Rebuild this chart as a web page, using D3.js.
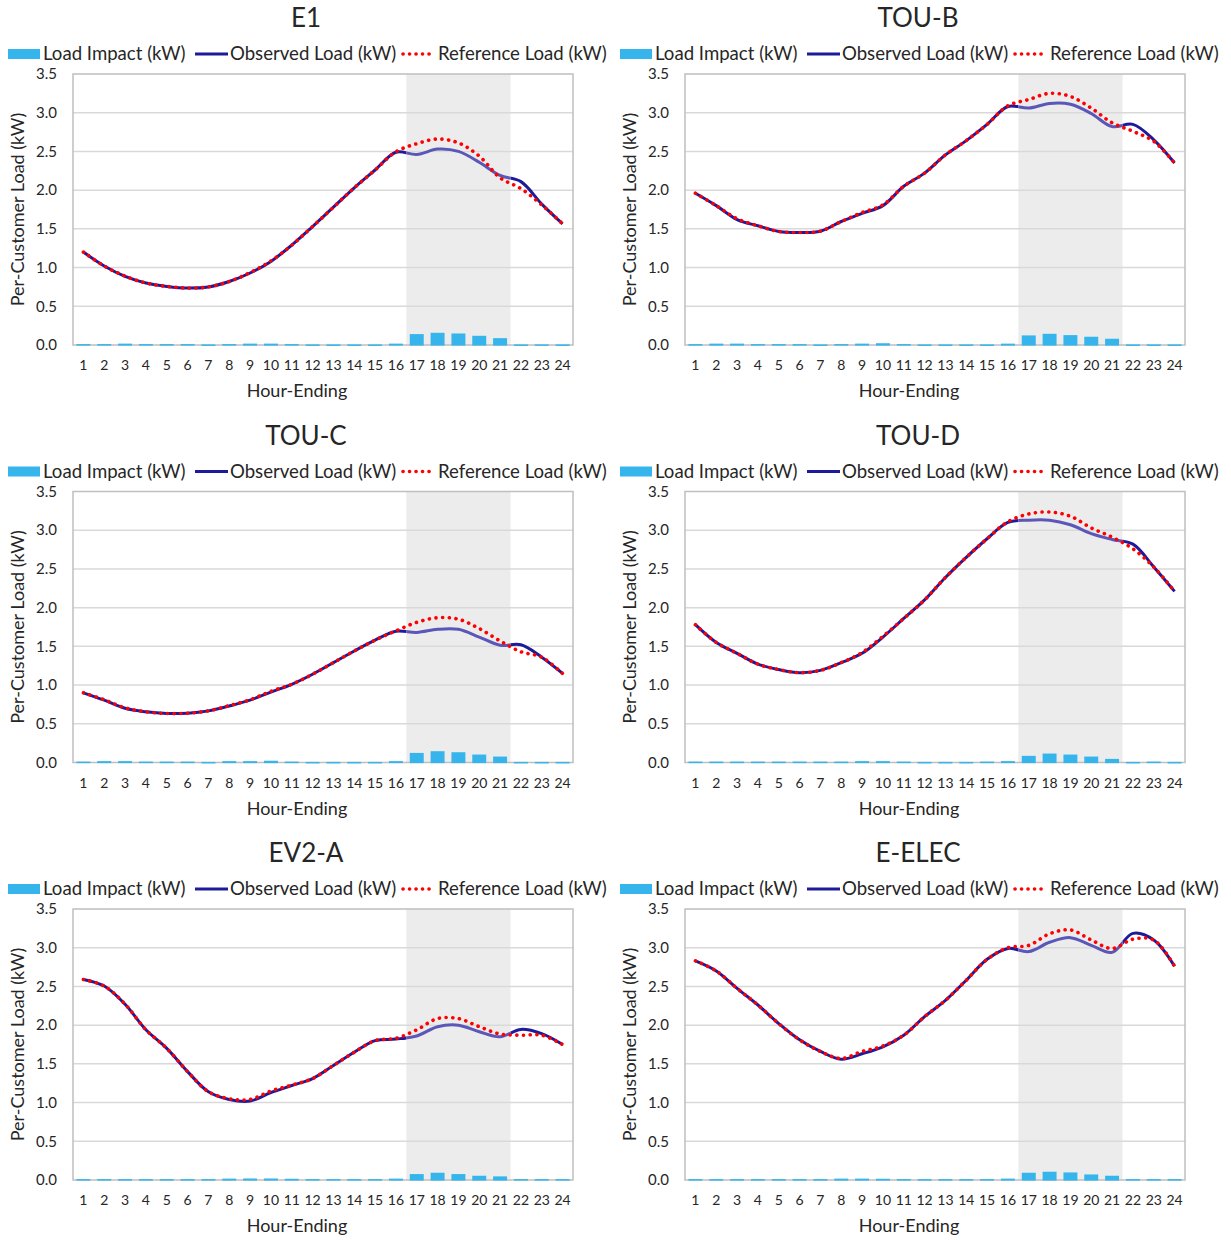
<!DOCTYPE html>
<html>
<head>
<meta charset="utf-8">
<script src="https://cdn.jsdelivr.net/npm/d3@7"></script>
<style>
  body { margin: 0; background: #fff; }
  text { font-family: Lato, "Open Sans", sans-serif; fill: #262626; }
</style>
</head>
<body>
<svg id="chart" width="1231" height="1240"></svg>
<script>
// hour labels, y ticks and the shaded event window
const hours = [1, 2, 3, 4, 5, 6, 7, 8, 9, 10, 11, 12, 13, 14, 15, 16, 17, 18, 19, 20, 21, 22, 23, 24];
const yTicks = [0, 0.5, 1.0, 1.5, 2.0, 2.5, 3.0, 3.5];
const eventHours = [17, 18, 19, 20, 21];
const panelTitles = ['E1', 'TOU-B', 'TOU-C', 'TOU-D', 'EV2-A', 'E-ELEC'];

// E1
const e1Observed = [1.20, 1.02, 0.885, 0.80, 0.757, 0.735, 0.75, 0.82, 0.93, 1.08, 1.29, 1.53, 1.78, 2.03, 2.26, 2.49, 2.46, 2.53, 2.50, 2.36, 2.19, 2.11, 1.82, 1.565];
const e1Reference = [1.20, 1.02, 0.89, 0.80, 0.757, 0.735, 0.75, 0.82, 0.935, 1.085, 1.29, 1.53, 1.78, 2.03, 2.26, 2.495, 2.60, 2.66, 2.61, 2.44, 2.16, 2.02, 1.81, 1.565];
const e1Impact = [0.004, 0.004, 0.01, 0.004, 0.004, 0.004, -0.004, 0.004, 0.01, 0.01, 0.004, -0.004, -0.004, -0.004, -0.004, 0.01, 0.133, 0.15, 0.141, 0.111, 0.081, -0.004, -0.003, -0.004];

// TOU-B
const toubObserved = [1.96, 1.80, 1.62, 1.54, 1.466, 1.453, 1.47, 1.595, 1.70, 1.80, 2.05, 2.22, 2.455, 2.64, 2.85, 3.08, 3.06, 3.12, 3.11, 2.99, 2.82, 2.85, 2.65, 2.35];
const toubReference = [1.96, 1.80, 1.63, 1.54, 1.466, 1.453, 1.47, 1.595, 1.71, 1.81, 2.05, 2.22, 2.455, 2.64, 2.85, 3.09, 3.17, 3.25, 3.21, 3.06, 2.87, 2.76, 2.63, 2.35];
const toubImpact = [0.004, 0.01, 0.01, 0.004, 0.004, 0.004, -0.004, 0.004, 0.01, 0.015, 0.004, -0.004, -0.004, -0.004, -0.004, 0.01, 0.116, 0.137, 0.12, 0.099, 0.073, -0.004, -0.004, -0.004];

// TOU-C
const toucObserved = [0.90, 0.805, 0.70, 0.654, 0.633, 0.637, 0.667, 0.73, 0.805, 0.91, 1.01, 1.14, 1.29, 1.44, 1.58, 1.695, 1.68, 1.72, 1.72, 1.62, 1.515, 1.52, 1.36, 1.15];
const toucReference = [0.90, 0.81, 0.705, 0.654, 0.633, 0.637, 0.667, 0.735, 0.81, 0.92, 1.01, 1.14, 1.29, 1.44, 1.58, 1.70, 1.81, 1.87, 1.85, 1.73, 1.57, 1.43, 1.36, 1.15];
const toucImpact = [0.004, 0.01, 0.01, 0.004, 0.004, 0.004, -0.004, 0.01, 0.01, 0.015, 0.004, -0.004, -0.004, -0.004, -0.004, 0.01, 0.116, 0.138, 0.125, 0.095, 0.069, -0.004, -0.004, -0.004];

// TOU-D
const toudObserved = [1.78, 1.55, 1.41, 1.27, 1.20, 1.16, 1.19, 1.29, 1.41, 1.62, 1.86, 2.10, 2.39, 2.65, 2.89, 3.10, 3.13, 3.13, 3.07, 2.955, 2.88, 2.82, 2.525, 2.21];
const toudReference = [1.78, 1.55, 1.41, 1.27, 1.20, 1.16, 1.19, 1.29, 1.42, 1.63, 1.86, 2.10, 2.39, 2.65, 2.89, 3.11, 3.21, 3.235, 3.18, 3.03, 2.91, 2.76, 2.525, 2.21];
const toudImpact = [0.004, 0.004, 0.004, 0.004, 0.004, 0.004, 0.004, 0.004, 0.01, 0.01, 0.004, -0.004, -0.004, -0.004, 0.004, 0.01, 0.078, 0.108, 0.095, 0.069, 0.039, -0.004, 0.004, -0.004];

// EV2-A
const ev2aObserved = [2.59, 2.505, 2.27, 1.94, 1.70, 1.40, 1.14, 1.04, 1.02, 1.13, 1.22, 1.31, 1.48, 1.65, 1.80, 1.82, 1.86, 1.98, 2.00, 1.915, 1.85, 1.945, 1.89, 1.75];
const ev2aReference = [2.59, 2.505, 2.27, 1.94, 1.70, 1.40, 1.14, 1.05, 1.04, 1.15, 1.225, 1.31, 1.48, 1.65, 1.80, 1.83, 1.94, 2.085, 2.085, 1.98, 1.885, 1.87, 1.87, 1.75];
const ev2aImpact = [0.004, 0.004, 0.004, 0.004, 0.004, 0.004, 0.004, 0.01, 0.012, 0.012, 0.008, 0.004, 0.004, 0.004, 0.004, 0.01, 0.069, 0.086, 0.069, 0.047, 0.039, 0.004, 0.004, 0.004];

// E-ELEC
const eelecObserved = [2.83, 2.70, 2.475, 2.26, 2.02, 1.81, 1.66, 1.56, 1.63, 1.72, 1.87, 2.11, 2.32, 2.58, 2.85, 2.99, 2.95, 3.07, 3.13, 3.03, 2.94, 3.185, 3.10, 2.76];
const eelecReference = [2.83, 2.70, 2.475, 2.26, 2.02, 1.81, 1.66, 1.57, 1.66, 1.73, 1.87, 2.11, 2.32, 2.58, 2.85, 3.00, 3.03, 3.18, 3.23, 3.10, 2.99, 3.11, 3.10, 2.76];
const eelecImpact = [0.004, 0.004, 0.004, 0.004, 0.004, 0.004, 0.004, 0.01, 0.01, 0.008, 0.004, 0.004, 0.004, 0.004, 0.004, 0.01, 0.086, 0.099, 0.09, 0.064, 0.047, 0.004, 0.004, 0.004];

const observedSeries = [e1Observed, toubObserved, toucObserved, toudObserved, ev2aObserved, eelecObserved];
const referenceSeries = [e1Reference, toubReference, toucReference, toudReference, ev2aReference, eelecReference];
const impactSeries = [e1Impact, toubImpact, toucImpact, toudImpact, ev2aImpact, eelecImpact];

// layout
const panelW = 612, panelH = 417.5;
const plotLeft = 73, plotTop = 74, plotW = 500, plotH = 271;

const colors = {
  bar: '#35b5ec',
  observed: '#1e1a9c',
  observedShade: '#5a57b8',
  reference: '#ff0000',
  shade: '#ececec',
  grid: '#d9d9d9',
  border: '#bfbfbf'
};

const svg = d3.select('#chart');

function drawPanel(i) {
  const col = i % 2, row = Math.floor(i / 2);
  const g = svg.append('g')
    .attr('transform', `translate(${col * panelW}, ${row * panelH})`);

  const x = d3.scaleBand().domain(hours).range([plotLeft, plotLeft + plotW]);
  const xBar = d3.scaleBand().domain(hours).range([plotLeft, plotLeft + plotW])
    .paddingInner(0.33).paddingOuter(0.165);
  const y = d3.scaleLinear().domain([0, 3.5]).range([plotTop + plotH, plotTop]);
  const cx = h => x(h) + x.bandwidth() / 2;

  // event window shading
  const shadeX0 = x(eventHours[0]);
  const shadeX1 = x(eventHours[eventHours.length - 1]) + x.bandwidth();
  g.append('rect')
    .attr('x', shadeX0).attr('y', plotTop)
    .attr('width', shadeX1 - shadeX0).attr('height', plotH)
    .attr('fill', colors.shade);

  // gridlines
  g.selectAll('line.grid')
    .data(yTicks.filter(t => t > 0 && t < 3.5))
    .join('line')
    .attr('class', 'grid')
    .attr('x1', plotLeft).attr('x2', plotLeft + plotW)
    .attr('y1', d => y(d)).attr('y2', d => y(d))
    .attr('stroke', colors.grid)
    .attr('stroke-width', 1.5);

  // plot border
  g.append('rect')
    .attr('x', plotLeft).attr('y', plotTop)
    .attr('width', plotW).attr('height', plotH)
    .attr('fill', 'none')
    .attr('stroke', colors.border)
    .attr('stroke-width', 1.5);

  // load impact bars
  const impact = impactSeries[i];
  g.selectAll('rect.bar')
    .data(hours)
    .join('rect')
    .attr('class', 'bar')
    .attr('x', h => xBar(h))
    .attr('width', xBar.bandwidth())
    .attr('y', (h, k) => Math.min(y(impact[k]), y(0)) - 0.6)
    .attr('height', (h, k) => Math.abs(y(impact[k]) - y(0)) + 1.2)
    .attr('fill', colors.bar);

  // clip paths for observed line inside / outside the event window
  const defs = g.append('defs');
  defs.append('clipPath').attr('id', 'in' + i)
    .append('rect')
    .attr('x', shadeX0).attr('y', 0)
    .attr('width', shadeX1 - shadeX0).attr('height', 417);
  const outClip = defs.append('clipPath').attr('id', 'out' + i);
  outClip.append('rect').attr('x', 0).attr('y', 0).attr('width', shadeX0).attr('height', 417);
  outClip.append('rect').attr('x', shadeX1).attr('y', 0).attr('width', 612 - shadeX1).attr('height', 417);

  const line = d3.line()
    .x((d, k) => cx(hours[k]))
    .y(d => y(d))
    .curve(d3.curveCatmullRom.alpha(0.5));

  g.append('path')
    .attr('d', line(observedSeries[i]))
    .attr('fill', 'none')
    .attr('stroke', colors.observed)
    .attr('stroke-width', 3)
    .attr('clip-path', `url(#out${i})`);

  g.append('path')
    .attr('d', line(observedSeries[i]))
    .attr('fill', 'none')
    .attr('stroke', colors.observedShade)
    .attr('stroke-width', 3)
    .attr('clip-path', `url(#in${i})`);

  g.append('path')
    .attr('d', line(referenceSeries[i]))
    .attr('fill', 'none')
    .attr('stroke', colors.reference)
    .attr('stroke-width', 3.6)
    .attr('stroke-linecap', 'round')
    .attr('stroke-dasharray', '0.1 6.6');

  // y tick labels
  g.selectAll('text.ytick')
    .data(yTicks)
    .join('text')
    .attr('class', 'ytick')
    .attr('x', 57)
    .attr('y', d => y(d))
    .attr('dy', '0.35em')
    .attr('text-anchor', 'end')
    .style('font-size', '15px')
    .text(d => d.toFixed(1));

  // x tick labels
  g.selectAll('text.xtick')
    .data(hours)
    .join('text')
    .attr('class', 'xtick')
    .attr('x', h => cx(h))
    .attr('y', plotTop + plotH + 25)
    .attr('text-anchor', 'middle')
    .style('font-size', '14px')
    .text(h => h);

  // axis titles
  g.append('text')
    .attr('x', 297)
    .attr('y', plotTop + plotH + 52)
    .attr('text-anchor', 'middle')
    .style('font-size', '18px')
    .text('Hour-Ending');

  g.append('text')
    .attr('transform', `translate(24, ${plotTop + plotH / 2}) rotate(-90)`)
    .attr('text-anchor', 'middle')
    .style('font-size', '18px')
    .text('Per-Customer Load (kW)');

  // title
  g.append('text')
    .attr('x', 306)
    .attr('y', 27)
    .attr('text-anchor', 'middle')
    .style('font-size', '26px')
    .text(panelTitles[i]);

  // legend
  const leg = g.append('g');
  leg.append('rect')
    .attr('x', 8).attr('y', 49).attr('width', 32).attr('height', 10)
    .attr('fill', colors.bar);
  leg.append('text').attr('x', 43).attr('y', 60).style('font-size', '18.6px').text('Load Impact (kW)');
  leg.append('line')
    .attr('x1', 195).attr('x2', 228).attr('y1', 54).attr('y2', 54)
    .attr('stroke', colors.observed).attr('stroke-width', 3);
  leg.append('text').attr('x', 230).attr('y', 60).style('font-size', '18.6px').text('Observed Load (kW)');
  leg.append('line')
    .attr('x1', 403).attr('x2', 435).attr('y1', 54).attr('y2', 54)
    .attr('stroke', colors.reference).attr('stroke-width', 3.6)
    .attr('stroke-linecap', 'round').attr('stroke-dasharray', '0.1 6.4');
  leg.append('text').attr('x', 438).attr('y', 60).style('font-size', '18.6px').text('Reference Load (kW)');
}

panelTitles.forEach((t, i) => drawPanel(i));
</script>
</body>
</html>
